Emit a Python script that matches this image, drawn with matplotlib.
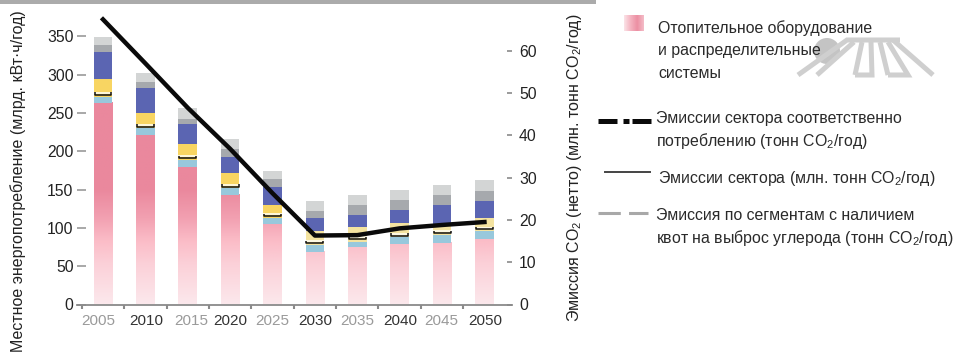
#!/usr/bin/env python3
import numpy as np
import matplotlib
matplotlib.use("Agg")
import matplotlib.pyplot as plt
from matplotlib.colors import LinearSegmentedColormap
from matplotlib.patches import Circle, Rectangle
from matplotlib.transforms import ScaledTranslation

plt.rcParams["font.family"] = ["Liberation Sans", "DejaVu Sans"]
plt.rcParams["mathtext.default"] = "regular"

W, H = 954, 356

years = [2005, 2010, 2015, 2020, 2025, 2030, 2035, 2040, 2045, 2050]
# cumulative tops of the stacked segments, bottom to top
heating = [263, 221, 180, 143, 105, 69, 75, 79, 80, 85]
cooling = [271, 230, 189, 152, 113, 78, 82, 88, 91, 96]
water = [294, 250, 209, 172, 130, 96, 101, 106, 104, 113]
lighting = [329, 282, 235, 193, 154, 113, 117, 124, 130, 135]
appliances = [339, 291, 242, 203, 164, 122, 130, 137, 143, 148]
other = [349, 302, 256, 216, 174, 135, 143, 150, 156, 163]
# small bracket drawn over each bar
brackets = [274, 232, 191, 154, 115, 80, 85, 90, 93, 98]
emissions = [67.4, 57.0, 46.5, 36.8, 26.3, 16.3, 16.4, 18.0, 18.8, 19.5]

left_ticks = [0, 50, 100, 150, 200, 250, 300, 350]
right_ticks = [0, 10, 20, 30, 40, 50, 60]


def px(x, y, w, h):
    return [x / W, 1 - (y + h) / H, w / W, h / H]


fig = plt.figure(figsize=(W / 100, H / 100), dpi=100)

# full-figure layer in pixel coordinates for the legend and decorations
bg = fig.add_axes([0, 0, 1, 1])
bg.axis("off")

ax = fig.add_axes(px(77, 0, 435, 304.5))
ax.patch.set_alpha(0)

pink = LinearSegmentedColormap.from_list("pink", [(0, "#fce8ec"), (0.35, "#fbd0d8"), (0.55, "#fbbcc7"),
                                                  (0.75, "#f2a0b1"), (1, "#ea889d")])
bar_w = 0.44
for i, top in enumerate(heating):
    grad = np.linspace(0, top, 200).reshape(-1, 1)
    ax.imshow(grad, cmap=pink, vmin=0, vmax=150, origin="lower", aspect="auto",
              extent=(i - bar_w / 2, i + bar_w / 2, 0, top), zorder=2)
ax.set_xlim(-0.613, 9.65)
ax.set_ylim(0, 304.5 / 0.766)

x = np.arange(len(years))
yellow = ["#f8d562"] * 5 + ["#f4e3a0"] * 5
ax.bar(x, np.subtract(cooling, heating), bar_w, bottom=heating, color="#98c8dc", zorder=2)
ax.bar(x, np.subtract(water, cooling), bar_w, bottom=cooling, color=yellow, zorder=2)
ax.bar(x, np.subtract(lighting, water), bar_w, bottom=water, color="#5b65b2", zorder=2)
ax.bar(x, np.subtract(appliances, lighting), bar_w, bottom=lighting, color="#a6a9ad", zorder=2)
ax.bar(x, np.subtract(other, appliances), bar_w, bottom=appliances, color="#d3d5d5", zorder=2)

# white gap and black bracket between the lower segments
inset = 0.02
for i, b in enumerate(brackets):
    ax.plot([i - bar_w / 2, i + bar_w / 2], [b + 2.5, b + 2.5], color="#fffdf0", lw=1.2, zorder=3,
            solid_capstyle="butt")
    ax.plot([i - bar_w / 2 + inset, i - bar_w / 2 + inset, i + bar_w / 2 - inset, i + bar_w / 2 - inset],
            [b + 3, b, b, b + 3], color="#111111", lw=1.1, zorder=4,
            solid_joinstyle="round", solid_capstyle="butt")

ax.spines[["top", "left", "right"]].set_visible(False)
ax.spines["bottom"].set_color("#8a8a8a")
ax.spines["bottom"].set_linewidth(1.3)
ax.set_xticks(x - 0.5)
ax.set_xticklabels([])
ax.tick_params(axis="x", direction="out", length=3, width=1.5, color="#8a8a8a")
ax.set_yticks(left_ticks)
ax.set_yticklabels([str(t) for t in left_ticks], fontsize=11.3, color="#222222")
ax.tick_params(axis="y", direction="in", length=6.5, width=1.2, color="#9a9a9a", pad=2.5)
ax.set_xticks(x, minor=True)
ax.set_xticklabels([str(y) for y in years], minor=True, fontsize=11)
ax.tick_params(axis="x", which="minor", length=0, pad=7)
# the year labels are not quite centred under their bars
label_shift = [-4.5, 0.5, 3, 0, 0, 0.5, 0, 1, -1, 0.5]
for i, lab in enumerate(ax.get_xticklabels(minor=True)):
    lab.set_color("#9a9a9a" if i % 2 == 0 else "#333333")
    lab.set_transform(lab.get_transform() + ScaledTranslation(label_shift[i] / 100, 0, fig.dpi_scale_trans))

# second scale for CO2 emissions
ax2 = ax.twinx()
ax2.set_ylim(0, 304.5 / 4.23)
ax2.spines[["top", "left", "right", "bottom"]].set_visible(False)
ax2.set_yticks(right_ticks)
ax2.set_yticklabels([str(t) for t in right_ticks], fontsize=11.3, color="#222222")
ax2.tick_params(axis="y", direction="in", length=3.5, width=1.2, color="#8a8a8a", pad=5)
ax2.plot(x, emissions, color="#0a0a0a", lw=3.2, solid_joinstyle="round", zorder=6)

# top rule
bg.add_patch(Rectangle((0, 0), 596, 3.5, color="#ababab", lw=0))

# faint logo behind the legend text
logo = "#cfcfcf"
bg.add_patch(Circle((827, 51), 13, color="#c4c4c4", lw=0, zorder=1))
furrows = [[(798, 75), (847, 40), (900, 40)],
           [(817, 75), (854, 42)],
           [(855, 75), (862, 42)],
           [(855, 75), (872, 75), (871, 42)],
           [(888, 75), (880, 42)],
           [(888, 75), (908, 75), (888, 42)],
           [(933, 75), (893, 40)]]
for f in furrows:
    bg.plot(*zip(*f), color=logo, lw=3.6, zorder=1, solid_capstyle="butt", solid_joinstyle="miter")

# legend
swatch = LinearSegmentedColormap.from_list("sw", ["#fbe3e7", "#f4b3c0", "#ec8fa3", "#f4bcc7"])
bg.imshow(np.linspace(0, 1, 50).reshape(1, -1), cmap=swatch, aspect="auto",
          extent=(624, 644, 31, 15), zorder=2)
bg.set_xlim(0, W)
bg.set_ylim(H, 0)

ink = "#2a2a2a"
fs = 11.4
for tx, ty, s in [(658, 28, "Отопительное оборудование"),
                  (658, 50, "и распределительные"),
                  (658, 74, "системы"),
                  (656, 118, "Эмиссии сектора соответственно"),
                  (656, 141, "потреблению (тонн CO$_2$/год)"),
                  (658, 179, "Эмиссии сектора (млн. тонн CO$_2$/год)"),
                  (656, 216, "Эмиссия по сегментам с наличием"),
                  (656, 238, "квот на выброс углерода (тонн CO$_2$/год)")]:
    bg.text(tx, ty, s, ha="left", va="center", fontsize=fs, color=ink, zorder=3)

bg.plot([598, 653], [121, 121], color="#0a0a0a", lw=3.6, ls=(0, (3.8, 1.2, 1.2, 0.6)), zorder=3)
bg.plot([605, 650], [172, 172], color="#444444", lw=1.4, zorder=3)
bg.plot([598, 648], [212.5, 212.5], color="#a8a8a8", lw=2.2, ls=(0, (7.3, 2.7)), zorder=3)

# axis titles
bg.text(18, 181, "Местное энергопотребление (млрд. кВт·ч/год)", rotation=90,
        ha="center", va="center", fontsize=11.5, color="#222222")
bg.text(575, 168, "Эмиссия CO$_2$ (нетто) (млн. тонн CO$_2$/год)", rotation=90,
        ha="center", va="center", fontsize=11.5, color="#222222")

fig.savefig("out.png", dpi=100)
